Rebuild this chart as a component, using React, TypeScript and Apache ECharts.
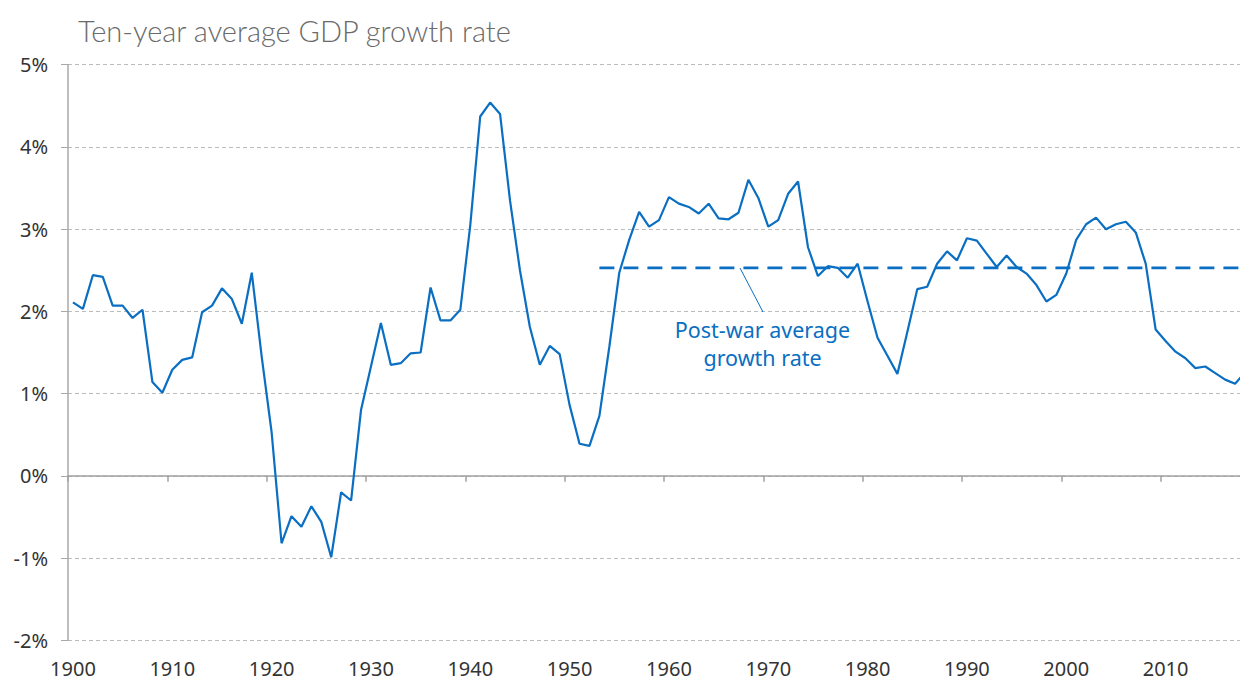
import React, { useEffect, useRef } from "react";
import * as echarts from "echarts";

const years: string[] = [];
for (let y = 1900; y <= 2018; y++) years.push(String(y));

// Ten-year average GDP growth rate (%), 1900–2018
const growth: number[] = [
  2.11, 2.03, 2.44, 2.42, 2.07, 2.07, 1.92, 2.02, 1.14, 1.01,
  1.29, 1.41, 1.44, 1.99, 2.07, 2.28, 2.15, 1.85, 2.47, 1.45,
  0.53, -0.82, -0.49, -0.62, -0.37, -0.56, -0.99, -0.2, -0.3, 0.8,
  1.33, 1.86, 1.35, 1.37, 1.49, 1.5, 2.29, 1.89, 1.89, 2.02,
  3.05, 4.37, 4.54, 4.4, 3.35, 2.5, 1.81, 1.35, 1.58, 1.48,
  0.86, 0.39, 0.365, 0.73, 1.57, 2.47, 2.87, 3.21, 3.03, 3.11,
  3.39, 3.31, 3.27, 3.19, 3.31, 3.13, 3.12, 3.2, 3.6, 3.38,
  3.03, 3.11, 3.43, 3.58, 2.78, 2.43, 2.55, 2.53, 2.41, 2.58,
  2.12, 1.68, 1.46, 1.24, 1.75, 2.27, 2.3, 2.58, 2.73, 2.62,
  2.89, 2.86, 2.7, 2.54, 2.68, 2.54, 2.46, 2.32, 2.12, 2.2,
  2.46, 2.87, 3.06, 3.14, 3.0, 3.06, 3.09, 2.96, 2.58, 1.78,
  1.64, 1.51, 1.43, 1.31, 1.33, 1.25, 1.17, 1.12, 1.26,
];

const postWarStart = 1953;
const postWarAverage = 2.53;
const postWar: (number | null)[] = years.map((y) =>
  Number(y) >= postWarStart ? postWarAverage : null
);

const yTicks = { min: -2, max: 5, interval: 1 };

const BLUE = "#0a6fc2";
const FONT = "'Noto Sans', sans-serif";

export default function App() {
  const ref = useRef<HTMLDivElement>(null);
  useEffect(() => {
    document.body.style.margin = "0";
    document.body.style.overflow = "hidden";
    const chart = echarts.init(ref.current!, null, { renderer: "svg" });
    chart.setOption({
      animation: false,
      backgroundColor: "#ffffff",
      title: {
        text: "Ten-year average GDP growth rate",
        left: 73,
        top: 11,
        textStyle: {
          fontFamily: "Lato, 'Noto Sans', sans-serif",
          fontWeight: 300,
          fontSize: 29,
          color: "#6a6a6a",
        },
      },
      grid: { left: 68, right: 0, top: 64.7, bottom: 41.7 },
      xAxis: [
        {
          type: "category",
          data: years,
          boundaryGap: true,
          position: "bottom",
          axisLine: { show: false, onZero: false },
          axisTick: { show: false },
          axisLabel: {
            interval: 9,
            margin: 18,
            fontFamily: FONT,
            fontSize: 20,
            color: "#333333",
          },
          splitLine: { show: false },
        },
        {
          type: "category",
          data: years,
          boundaryGap: true,
          position: "bottom",
          axisLine: { show: true, onZero: true, lineStyle: { color: "#a0a0a0", width: 1.5 } },
          axisTick: { show: true, interval: 9, length: 6, lineStyle: { color: "#a0a0a0", width: 1.5 } },
          axisLabel: { show: false },
          splitLine: { show: false },
        },
      ],
      yAxis: {
        type: "value",
        min: yTicks.min,
        max: yTicks.max,
        interval: yTicks.interval,
        axisLine: { show: true, onZero: false, lineStyle: { color: "#a8a8a8", width: 1.5 } },
        axisTick: { show: true, length: 7, lineStyle: { color: "#a8a8a8", width: 1 } },
        axisLabel: {
          formatter: "{value}%",
          margin: 20,
          fontFamily: FONT,
          fontSize: 20,
          color: "#333333",
        },
        splitLine: { show: true, lineStyle: { color: "#bcbcbc", type: [4, 3], width: 1 } },
      },
      series: [
        {
          type: "line",
          xAxisIndex: 0,
          data: growth,
          symbol: "none",
          lineStyle: { color: BLUE, width: 2.2 },
          z: 3,
        },
        {
          type: "line",
          xAxisIndex: 0,
          data: postWar,
          symbol: "none",
          connectNulls: false,
          lineStyle: { color: BLUE, width: 2.8, type: [15, 9] },
          z: 4,
        },
      ],
      graphic: [
        {
          type: "line",
          shape: { x1: 740, y1: 268, x2: 763, y2: 312 },
          style: { stroke: BLUE, lineWidth: 1 },
          z: 10,
        },
        {
          type: "text",
          x: 762.5,
          y: 343,
          style: {
            text: "Post-war average\ngrowth rate",
            fontFamily: FONT,
            fontSize: 21.5,
            lineHeight: 28,
            fill: BLUE,
            align: "center",
            verticalAlign: "middle",
          },
          z: 10,
        },
      ],
    });
    return () => chart.dispose();
  }, []);
  return <div ref={ref} style={{ width: 1250, height: 682 }} />;
}
